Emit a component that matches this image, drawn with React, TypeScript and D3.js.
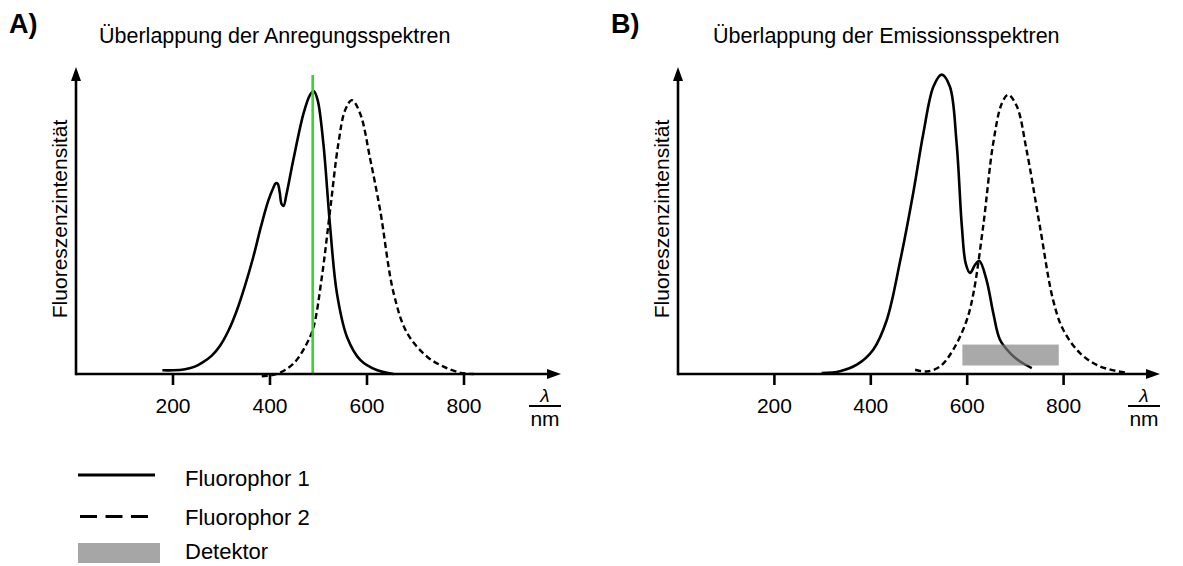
import * as d3 from "d3";

// wavelength (nm) vs relative intensity
const ticks = [200, 400, 600, 800];

const excitation1: [number, number][] = [
  [178, 0.013], [200, 0.013], [225, 0.017], [245, 0.026], [262, 0.042], [280, 0.065],
  [297, 0.1], [314, 0.152], [331, 0.222], [348, 0.31], [365, 0.41], [382, 0.525],
  [396, 0.61], [406, 0.655], [412, 0.674], [416, 0.672], [420, 0.642], [424, 0.6],
  [428, 0.594], [434, 0.635], [448, 0.756], [469, 0.92], [482, 0.985], [490, 1.0],
  [498, 0.97], [510, 0.815], [524, 0.52], [538, 0.285], [559, 0.13], [586, 0.05],
  [620, 0.014], [655, 0.0],
];
const excitation2: [number, number][] = [
  [383, -0.008], [414, 0.0], [449, 0.038], [476, 0.108], [490, 0.167], [507, 0.344],
  [524, 0.58], [541, 0.815], [555, 0.933], [569, 0.968], [586, 0.92], [607, 0.756],
  [627, 0.58], [655, 0.285], [683, 0.144], [724, 0.061], [758, 0.026], [793, 0.004], [820, 0.0],
];
const emission1: [number, number][] = [
  [298, 0.003], [336, 0.01], [371, 0.033], [405, 0.086], [433, 0.19], [461, 0.4],
  [488, 0.64], [509, 0.85], [530, 1.016], [547, 1.058], [564, 1.016], [578, 0.816],
  [589, 0.52], [597, 0.39], [606, 0.357], [616, 0.385], [625, 0.4], [640, 0.333],
  [654, 0.216], [668, 0.121], [689, 0.074], [709, 0.045], [734, 0.021],
];
const emission2: [number, number][] = [
  [492, 0.015], [516, 0.009], [544, 0.027], [571, 0.086], [599, 0.19], [613, 0.286],
  [633, 0.52], [654, 0.816], [672, 0.957], [685, 0.987], [703, 0.946], [723, 0.793],
  [751, 0.52], [778, 0.263], [799, 0.157], [834, 0.074], [875, 0.027], [931, 0.004],
];
const laserLine = 488;
const detectorRange = [590, 790];
const detectorLevels = [0.03, 0.104];

const legendItems = ["Fluorophor 1", "Fluorophor 2", "Detektor"];

const FONT = "'Liberation Sans', Arial, sans-serif";

function Panel({ ox, width, label, labelX, titleX, title, solid, dashed, laser, detector }: any) {
  const y0 = 374;
  const x = d3.scaleLinear().domain([0, 1000]).range([ox, ox + width]);
  const y = d3.scaleLinear().domain([0, 1.085]).range([y0, 67]);
  const line = d3
    .line<[number, number]>()
    .x((d) => x(d[0]))
    .y((d) => y(d[1]))
    .curve(d3.curveCatmullRom.alpha(0.5));
  const xEnd = ox + width;
  const yTop = y(1.085);
  return (
    <g>
      <text x={labelX} y={33} fontSize={27} fontWeight="bold" fontFamily={FONT}>
        {label}
      </text>
      <text x={titleX} y={43} fontSize={21.5} fontFamily={FONT}>
        {title}
      </text>
      <text
        transform={`translate(${ox - 9},${219}) rotate(-90)`}
        textAnchor="middle"
        fontSize={21}
        fontFamily={FONT}
      >
        Fluoreszenzintensität
      </text>
      <path d={line(solid) || ""} fill="none" stroke="#000" strokeWidth={2.6} />
      <path d={line(dashed) || ""} fill="none" stroke="#000" strokeWidth={2.4} strokeDasharray="6 3.5" />
      {laser !== undefined && (
        <line x1={x(laser)} x2={x(laser)} y1={75} y2={y0} stroke="#33d633" strokeWidth={2.6} />
      )}
      {detector && (
        <rect
          x={x(detector[0])}
          width={x(detector[1]) - x(detector[0])}
          y={y(detectorLevels[1])}
          height={y(detectorLevels[0]) - y(detectorLevels[1])}
          fill="#808080"
          opacity={0.68}
        />
      )}
      {/* axes */}
      <line x1={ox} x2={xEnd - 10} y1={y0} y2={y0} stroke="#000" strokeWidth={2.6} />
      <path d={`M${xEnd},${y0} L${xEnd - 14},${y0 - 5} L${xEnd - 14},${y0 + 5} Z`} fill="#000" />
      <line x1={ox} x2={ox} y1={y0 + 1.3} y2={yTop + 10} stroke="#000" strokeWidth={2.6} />
      <path d={`M${ox},${yTop} L${ox - 5},${yTop + 14} L${ox + 5},${yTop + 14} Z`} fill="#000" />
      {ticks.map((t) => (
        <g key={t}>
          <line x1={x(t)} x2={x(t)} y1={y0} y2={y0 + 11} stroke="#000" strokeWidth={2.6} />
          <text x={x(t)} y={y0 + 39} textAnchor="middle" fontSize={21} fontFamily={FONT}>
            {t}
          </text>
        </g>
      ))}
      {/* unit fraction */}
      <text x={xEnd - 16} y={y0 + 28} textAnchor="middle" fontSize={19} fontStyle="italic" fontFamily={FONT}>
        λ
      </text>
      <line x1={xEnd - 32} x2={xEnd} y1={y0 + 32} y2={y0 + 32} stroke="#000" strokeWidth={2} />
      <text x={xEnd - 16} y={y0 + 52} textAnchor="middle" fontSize={21} fontFamily={FONT}>
        nm
      </text>
    </g>
  );
}

export default function App() {
  return (
    <svg
      width={1183}
      height={566}
      style={{ position: "absolute", left: 0, top: 0, background: "#fff" }}
    >
      <Panel
        ox={76}
        width={485}
        label="A)"
        labelX={9}
        titleX={99}
        title="Überlappung der Anregungsspektren"
        solid={excitation1}
        dashed={excitation2}
        laser={laserLine}
      />
      <Panel
        ox={678}
        width={482}
        label="B)"
        labelX={611}
        titleX={713}
        title="Überlappung der Emissionsspektren"
        solid={emission1}
        dashed={emission2}
        detector={detectorRange}
      />
      {/* legend */}
      <g fontFamily={FONT} fontSize={22}>
        <line x1={78} x2={155} y1={475} y2={475} stroke="#000" strokeWidth={3} />
        <text x={185} y={486}>{legendItems[0]}</text>
        <line x1={80} x2={148} y1={516.5} y2={516.5} stroke="#000" strokeWidth={3} strokeDasharray="17 8.5" />
        <text x={185} y={525}>{legendItems[1]}</text>
        <rect x={78} y={543} width={82} height={20} fill="#a6a6a6" />
        <text x={185} y={559}>{legendItems[2]}</text>
      </g>
    </svg>
  );
}
